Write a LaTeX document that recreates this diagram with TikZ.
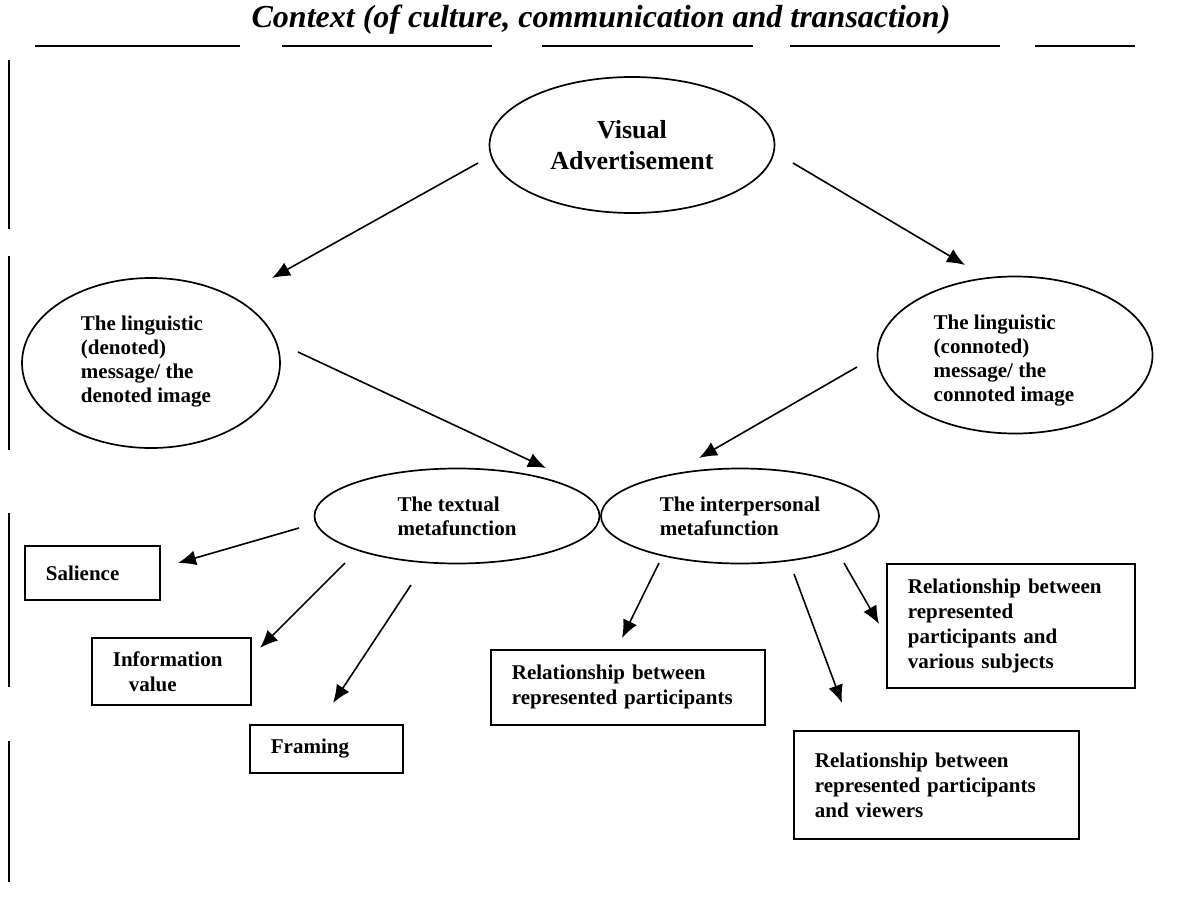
\documentclass[tikz,border=0pt]{standalone}
\usepackage{fontspec}
\setmainfont{Liberation Serif}
\usetikzlibrary{shapes.geometric}
\usetikzlibrary{arrows.meta}
\usetikzlibrary{positioning}

\tikzset{
oval/.style={draw,ellipse,line width=1.7pt,inner sep=0pt,font=\fontsize{21}{24}\selectfont\bfseries},
lbl/.style={align=left,inner sep=0pt,font=\fontsize{21}{24}\selectfont\bfseries},
bx/.style={draw,rectangle,line width=1.7pt,align=left,inner xsep=21pt,inner ysep=0pt,anchor=north west,font=\fontsize{21}{25}\selectfont\bfseries},
arr/.style={line width=1.6pt,-{Latex[length=18pt,width=15pt]}},
rule/.style={line width=2.2pt}
}

\begin{document}
\begin{tikzpicture}[x=1pt,y=-1pt]
\useasboundingbox (0,0) rectangle (1178,907);
\node[anchor=base,font=\fontsize{32}{32}\selectfont\bfseries\itshape] (ctx) at (601,28) {Context (of culture, communication and transaction)};
\draw[rule] (35,46) -- (240,46);
\draw[rule] (282,46) -- (492,46);
\draw[rule] (542,46) -- (753,46);
\draw[rule] (790,46) -- (1000,46);
\draw[rule] (1035,46) -- (1135,46);
\draw[rule] (9,60) -- (9,229);
\draw[rule] (9,256) -- (9,450);
\draw[rule] (9,513) -- (9,687);
\draw[rule] (9,741) -- (9,882);

\node[oval,align=center,minimum width=285pt,minimum height=136pt,font=\fontsize{26}{31}\selectfont\bfseries] (va) at (632,145) {Visual\\Advertisement};
\node[oval,minimum width=258pt,minimum height=170pt] (den) at (151,363) {};
\node[lbl] (den-lbl) at (146,362) {The linguistic\\(denoted)\\message/ the\\denoted image};
\node[oval,minimum width=275pt,minimum height=157pt] (con) at (1015,355) {};
\node[lbl] (con-lbl) at (1004,361) {The linguistic\\(connoted)\\message/ the\\connoted image};
\node[oval,align=left,minimum width=285pt,minimum height=95pt] (txt) at (457,516) {The textual\\metafunction};
\node[oval,align=left,minimum width=278pt,minimum height=95pt] (int) at (740,516) {The interpersonal\\metafunction};

\node[bx,text width=93pt,minimum height=54pt] (sal) at (24,545) {Salience};
\node[bx,text width=117pt,minimum height=67pt] (inf) at (91,637) {Information\\\hspace*{16pt}value};
\node[bx,text width=111pt,minimum height=48pt] (fra) at (249,724) {Framing};
\node[bx,text width=232pt,minimum height=75pt] (rp) at (490,649) {Relationship between\\represented participants};
\node[bx,text width=206pt,minimum height=124pt] (rs) at (886,563) {Relationship between\\represented\\participants and\\various subjects};
\node[bx,text width=243pt,minimum height=108pt] (rv) at (793,730) {Relationship between\\represented participants\\and viewers};

\coordinate (va-sw) at (478,163);
\coordinate (va-se) at (793,163);
\coordinate (den-ne) at (272,278);
\coordinate (den-e) at (298,352);
\coordinate (con-nw) at (965,265);
\coordinate (con-w) at (857,367);
\coordinate (txt-ne) at (546,468);
\coordinate (txt-w) at (299,528);
\coordinate (txt-sw) at (345,563);
\coordinate (txt-s) at (411,585);
\coordinate (int-n) at (699,458);
\coordinate (int-sw) at (659,563);
\coordinate (int-s) at (794,574);
\coordinate (int-se) at (844,563);
\coordinate (sal-e) at (178,563);
\coordinate (inf-ne) at (260,648);
\coordinate (fra-n) at (333,703);
\coordinate (rp-n) at (622,638);
\coordinate (rv-n) at (842,703);
\coordinate (rs-w) at (879,624);

\draw[arr] (va-sw) -- (den-ne);
\draw[arr] (va-se) -- (con-nw);
\draw[arr] (den-e) -- (txt-ne);
\draw[arr] (con-w) -- (int-n);
\draw[arr] (txt-w) -- (sal-e);
\draw[arr] (txt-sw) -- (inf-ne);
\draw[arr] (txt-s) -- (fra-n);
\draw[arr] (int-sw) -- (rp-n);
\draw[arr] (int-s) -- (rv-n);
\draw[arr] (int-se) -- (rs-w);
\end{tikzpicture}
\end{document}
